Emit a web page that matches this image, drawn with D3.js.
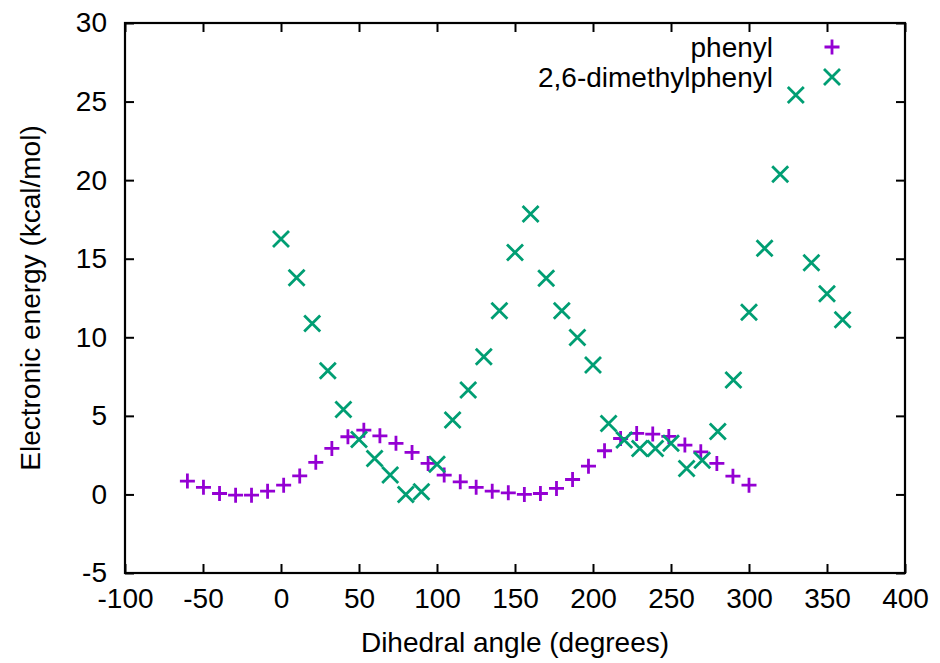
<!DOCTYPE html>
<html>
<head>
<meta charset="utf-8">
<script src="https://cdn.jsdelivr.net/npm/d3@7/dist/d3.min.js"></script>
<style>
    html, body { margin: 0; padding: 0; background: #fff; }
    svg text { font-family: "Liberation Sans", Arial, sans-serif; fill: #000; }
</style>
</head>
<body>
<div id="chart"></div>
<script>
// phenyl scan
const phenylAngles = [-60, -49.7, -39.4, -29.1, -18.9, -8.6, 1.7, 12, 22.3, 32.6, 42.9, 53.1,
    63.4, 73.7, 84, 94.3, 104.6, 114.9, 125.1, 135.4, 145.7, 156, 166.3, 176.6,
    186.9, 197.1, 207.4, 217.7, 228, 238.3, 248.6, 258.9, 269.1, 279.4, 289.7, 300];
const phenylEnergy = [0.85, 0.45, 0.06, -0.05, -0.05, 0.21, 0.59, 1.18, 2.04, 2.93, 3.67, 4.09,
    3.73, 3.25, 2.67, 1.97, 1.23, 0.80, 0.45, 0.21, 0.10, 0.0, 0.06, 0.38,
    0.95, 1.80, 2.78, 3.56, 3.88, 3.84, 3.69, 3.14, 2.71, 1.97, 1.16, 0.59];

// 2,6-dimethylphenyl scan
const dimethylAngles = [0, 10, 20, 30, 40, 50, 60, 70, 80, 90, 100, 110, 120, 130, 140, 150, 160,
    170, 180, 190, 200, 210, 220, 230, 240, 250, 260, 270, 280, 290, 300, 310, 320, 330, 340, 350, 360];
const dimethylEnergy = [16.25, 13.79, 10.88, 7.87, 5.41, 3.50, 2.29, 1.23, 0.0, 0.17, 1.92, 4.73,
    6.64, 8.76, 11.69, 15.40, 17.84, 13.75, 11.69, 9.99, 8.23, 4.52, 3.46, 2.93, 2.93,
    3.25, 1.65, 2.18, 4.01, 7.28, 11.59, 15.66, 20.37, 25.42, 14.74, 12.77, 11.12];

const xTicks = [-100, -50, 0, 50, 100, 150, 200, 250, 300, 350, 400];
const yTicks = [-5, 0, 5, 10, 15, 20, 25, 30];
const seriesNames = ['phenyl', '2,6-dimethylphenyl'];
const seriesColors = ['#9400d3', '#009e73'];
const xLabel = 'Dihedral angle (degrees)';
const yLabel = 'Electronic energy (kcal/mol)';

const W = 940, H = 663;
const margin = { top: 23, right: 35, bottom: 90, left: 125 };
const width = W - margin.left - margin.right;
const height = H - margin.top - margin.bottom;
const FONT = 28;
const TICK = 9;

const svg = d3.select('#chart').append('svg')
    .attr('width', W)
    .attr('height', H);

const g = svg.append('g')
    .attr('transform', `translate(${margin.left},${margin.top})`);

const x = d3.scaleLinear().domain([-100, 400]).range([0, width]);
const y = d3.scaleLinear().domain([-5, 30]).range([height, 0]);

// gnuplot prints a plain hyphen for negatives
const plain = d => String(d);

/**
 * Style an axis group: thick ticks, no domain line (frame is drawn separately).
 */
function styleAxis(sel, showLabels) {
    sel.select('.domain').remove();
    sel.selectAll('.tick line').attr('stroke', '#000').attr('stroke-width', 2);
    sel.selectAll('.tick text')
        .attr('font-size', FONT)
        .style('display', showLabels ? null : 'none');
}

// bottom + top
g.append('g')
    .attr('transform', `translate(0,${height})`)
    .call(d3.axisBottom(x).tickValues(xTicks).tickSize(-TICK).tickFormat(plain))
    .call(sel => styleAxis(sel, true))
    .call(sel => sel.selectAll('.tick text').attr('dy', '0.71em').attr('y', 15));

g.append('g')
    .call(d3.axisTop(x).tickValues(xTicks).tickSize(-TICK))
    .call(sel => styleAxis(sel, false));

// left + right
g.append('g')
    .call(d3.axisLeft(y).tickValues(yTicks).tickSize(-TICK).tickFormat(plain))
    .call(sel => styleAxis(sel, true))
    .call(sel => sel.selectAll('.tick text').attr('x', -18));

g.append('g')
    .attr('transform', `translate(${width},0)`)
    .call(d3.axisRight(y).tickValues(yTicks).tickSize(-TICK))
    .call(sel => styleAxis(sel, false));

// frame
g.append('rect')
    .attr('width', width)
    .attr('height', height)
    .attr('fill', 'none')
    .attr('stroke', '#000')
    .attr('stroke-width', 2.2);

// point glyphs
const PLUS = 7.5, CROSS = 8;
const plusPath = `M${-PLUS},0H${PLUS}M0,${-PLUS}V${PLUS}`;
const crossPath = `M${-CROSS},${-CROSS}L${CROSS},${CROSS}M${-CROSS},${CROSS}L${CROSS},${-CROSS}`;
const glyphs = [plusPath, crossPath];

const series = [
    d3.zip(phenylAngles, phenylEnergy),
    d3.zip(dimethylAngles, dimethylEnergy)
];

series.forEach((pts, i) => {
    g.append('g')
        .selectAll('path')
        .data(pts)
        .join('path')
        .attr('d', glyphs[i])
        .attr('transform', d => `translate(${x(d[0])},${y(d[1])})`)
        .attr('fill', 'none')
        .attr('stroke', seriesColors[i])
        .attr('stroke-width', 2.8);
});

// legend (gnuplot style, top right, text right-aligned before the sample)
const legend = g.append('g')
    .attr('transform', `translate(${width - 73},${24})`);

seriesNames.forEach((name, i) => {
    const row = legend.append('g').attr('transform', `translate(0,${i * 30})`);
    row.append('text')
        .attr('x', -59)
        .attr('dy', '0.35em')
        .attr('text-anchor', 'end')
        .attr('font-size', FONT)
        .text(name);
    row.append('path')
        .attr('d', glyphs[i])
        .attr('fill', 'none')
        .attr('stroke', seriesColors[i])
        .attr('stroke-width', 2.8);
});

// axis titles
svg.append('text')
    .attr('x', margin.left + width / 2)
    .attr('y', 652)
    .attr('text-anchor', 'middle')
    .attr('font-size', FONT)
    .text(xLabel);

svg.append('text')
    .attr('transform', `translate(40,${margin.top + height / 2}) rotate(-90)`)
    .attr('text-anchor', 'middle')
    .attr('font-size', FONT)
    .text(yLabel);
</script>
</body>
</html>
